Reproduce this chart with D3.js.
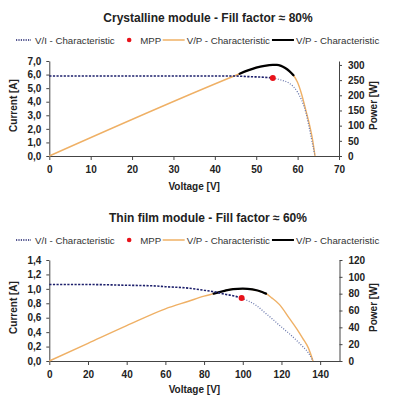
<!DOCTYPE html>
<html>
<head>
<meta charset="utf-8">
<script src="https://cdn.jsdelivr.net/npm/d3@7"></script>
<style>
  body { margin: 0; background: #fff; }
  svg { font-family: 'Liberation Sans', Arial, sans-serif; }
  .tick text { font-size: 10px; font-weight: bold; fill: #222; }
  .domain, .tick line { stroke: #444; }
  .axis-title { font-size: 10px; font-weight: bold; fill: #222; }
  .chart-title { font-size: 12px; font-weight: bold; fill: #222; }
  .legend text { font-size: 9.7px; fill: #333; }
</style>
</head>
<body>
<svg id="chart" width="396" height="400"></svg>
<script>
// Crystalline module
const crystTitle = 'Crystalline module - Fill factor \u2248 80%';
const crystIvVoltage = [0, 44, 48, 52, 54, 56, 58, 60, 61, 62, 62.6, 63.4, 64.2];
const crystIvCurrent = [5.9, 5.9, 5.85, 5.8, 5.75, 5.6, 5.36, 4.7, 4.1, 3.2, 2.4, 1.2, 0];
const crystPowerVoltage = [0, 46, 48, 50, 52, 54, 55, 56, 57, 58, 59, 60, 61, 62, 63, 63.6, 64.2];
const crystPower = [0, 271, 282, 291, 297, 300, 300, 297, 290, 280, 266, 242, 202, 150, 95, 55, 0];
const crystPeakRange = [46, 59];
const crystMpp = [54, 5.75];
const crystVoltTicks = [0, 10, 20, 30, 40, 50, 60, 70];
const crystCurrentTicks = [0, 1, 2, 3, 4, 5, 6, 7];
const crystPowerTicks = [0, 50, 100, 150, 200, 250, 300];

// Thin film module
const thinTitle = 'Thin film module - Fill factor \u2248 60%';
const thinIvVoltage = [0, 20, 40, 55, 60, 70, 80, 86, 90, 95, 99.4, 103, 107, 111, 115, 120, 124, 128, 131, 134, 136.3];
const thinIvCurrent = [1.06, 1.06, 1.05, 1.04, 1.03, 1.015, 0.98, 0.955, 0.93, 0.905, 0.872, 0.83, 0.77, 0.68, 0.59, 0.47, 0.38, 0.28, 0.2, 0.11, 0];
const thinPowerVoltage = [0, 20, 40, 60, 72, 80, 85, 90, 95, 100, 105, 110, 112, 115, 119, 124, 128, 131, 134, 136.3];
const thinPower = [0, 21, 42, 62, 71, 77, 80, 83, 85.5, 86, 85, 82, 80, 75, 67, 51, 38, 27, 15, 0];
const thinPeakRange = [83, 112];
const thinMpp = [99.4, 0.872];
const thinVoltTicks = [0, 20, 40, 60, 80, 100, 120, 140];
const thinCurrentTicks = [0, 0.2, 0.4, 0.6, 0.8, 1.0, 1.2, 1.4];
const thinPowerTicks = [0, 20, 40, 60, 80, 100, 120];

const legendLabels = ['V/I - Characteristic', 'MPP', 'V/P - Characteristic', 'V/P - Characteristic'];

const svg = d3.select('#chart');
const ORANGE = '#efb065';
const NAVY = '#1c1f6b';
const LIGHT_BLUE = '#6b78ad';

const fmtComma = (v) => d3.format('.1f')(v).replace('.', ',');

function zip(xs, ys) {
  return xs.map((x, i) => [x, ys[i]]);
}

function drawLegend(y) {
  const g = svg.append('g').attr('class', 'legend');
  let x = 16;

  // dotted V/I
  g.append('line')
    .attr('x1', x).attr('x2', x + 15).attr('y1', y).attr('y2', y)
    .attr('stroke', NAVY).attr('stroke-width', 1.5).attr('stroke-dasharray', '1.2,1.2');
  x += 19;
  let t = g.append('text').attr('x', x).attr('y', y + 3.5).text(legendLabels[0]);
  x += t.node().getComputedTextLength() + 14.5;

  // MPP
  g.append('circle').attr('cx', x).attr('cy', y).attr('r', 2.3).attr('fill', '#e8121a');
  x += 11;
  t = g.append('text').attr('x', x).attr('y', y + 3.5).text(legendLabels[1]);
  x += t.node().getComputedTextLength() + 1.5;

  // orange V/P
  g.append('line')
    .attr('x1', x).attr('x2', x + 22).attr('y1', y).attr('y2', y)
    .attr('stroke', ORANGE).attr('stroke-width', 1.5);
  x += 24;
  t = g.append('text').attr('x', x).attr('y', y + 3.5).text(legendLabels[2]);
  x += t.node().getComputedTextLength() + 2;

  // black V/P
  g.append('line')
    .attr('x1', x).attr('x2', x + 22).attr('y1', y).attr('y2', y)
    .attr('stroke', '#000').attr('stroke-width', 2);
  x += 24;
  g.append('text').attr('x', x).attr('y', y + 3.5).text(legendLabels[3]);
}

function drawPanel(p) {
  const x = d3.scaleLinear().domain(p.xDomain).range([p.left, p.right]);
  const yI = d3.scaleLinear().domain(p.iDomain).range([p.bottom, p.top]);
  const yP = d3.scaleLinear().domain(p.pDomain).range([p.bottom, p.top]);

  // title + legend
  svg.append('text')
    .attr('class', 'chart-title')
    .attr('x', 208)
    .attr('y', p.titleY)
    .attr('text-anchor', 'middle')
    .text(p.title);
  drawLegend(p.legendY);

  // axes
  svg.append('g')
    .attr('transform', `translate(0,${p.bottom})`)
    .call(d3.axisBottom(x).tickValues(p.xTicks).tickSize(4).tickPadding(6).tickSizeOuter(0));

  svg.append('g')
    .attr('transform', `translate(${p.left},0)`)
    .call(d3.axisLeft(yI).tickValues(p.iTicks).tickFormat(fmtComma).tickSize(3).tickPadding(5).tickSizeOuter(0));

  svg.append('g')
    .attr('transform', `translate(${p.right},0)`)
    .call(d3.axisRight(yP).tickValues(p.pTicks).tickFormat(d3.format('d')).tickSize(3).tickPadding(6).tickSizeOuter(0));

  // axis titles
  const midY = (p.top + p.bottom) / 2 - 3;
  svg.append('text')
    .attr('class', 'axis-title')
    .attr('transform', `translate(17,${midY}) rotate(-90)`)
    .attr('text-anchor', 'middle')
    .text('Current [A]');
  svg.append('text')
    .attr('class', 'axis-title')
    .attr('transform', `translate(377,${midY}) rotate(-90)`)
    .attr('text-anchor', 'middle')
    .text('Power [W]');
  svg.append('text')
    .attr('class', 'axis-title')
    .attr('x', (p.left + p.right) / 2)
    .attr('y', p.bottom + p.xTitleOffset)
    .attr('text-anchor', 'middle')
    .text('Voltage [V]');

  // curves
  const powerPts = zip(p.powerV, p.power);
  const ivPts = zip(p.ivV, p.ivI);

  const powerLine = d3.line().x((d) => x(d[0])).y((d) => yP(d[1])).curve(d3.curveMonotoneX);
  const ivLine = d3.line().x((d) => x(d[0])).y((d) => yI(d[1])).curve(d3.curveMonotoneX);

  svg.append('path')
    .datum(powerPts)
    .attr('d', powerLine)
    .attr('fill', 'none')
    .attr('stroke', ORANGE)
    .attr('stroke-width', 1.4);

  svg.append('path')
    .datum(powerPts.filter((d) => d[0] >= p.peakRange[0] && d[0] <= p.peakRange[1]))
    .attr('d', powerLine)
    .attr('fill', 'none')
    .attr('stroke', '#000')
    .attr('stroke-width', 2.3)
    .attr('stroke-linecap', 'round');

  svg.append('path')
    .datum(ivPts.filter((d) => d[0] <= p.mpp[0]))
    .attr('d', ivLine)
    .attr('fill', 'none')
    .attr('stroke', NAVY)
    .attr('stroke-width', 1.6)
    .attr('stroke-dasharray', '2.2,1.4');

  svg.append('path')
    .datum(ivPts.filter((d) => d[0] >= p.mpp[0]))
    .attr('d', ivLine)
    .attr('fill', 'none')
    .attr('stroke', LIGHT_BLUE)
    .attr('stroke-width', 1.3)
    .attr('stroke-dasharray', '1,1.6');

  svg.append('circle')
    .attr('cx', x(p.mpp[0]))
    .attr('cy', yI(p.mpp[1]))
    .attr('r', 3)
    .attr('fill', '#e8121a');
}

drawPanel({
  title: crystTitle, titleY: 22, legendY: 40,
  left: 49.3, right: 339, top: 61, bottom: 156, xTitleOffset: 34,
  xDomain: [0, 70], iDomain: [0, 7], pDomain: [0, 313],
  xTicks: crystVoltTicks, iTicks: crystCurrentTicks, pTicks: crystPowerTicks,
  ivV: crystIvVoltage, ivI: crystIvCurrent,
  powerV: crystPowerVoltage, power: crystPower,
  peakRange: crystPeakRange, mpp: crystMpp,
});

drawPanel({
  title: thinTitle, titleY: 222, legendY: 240,
  left: 49.3, right: 339.5, top: 260, bottom: 361, xTitleOffset: 32,
  xDomain: [0, 150], iDomain: [0, 1.4], pDomain: [0, 120],
  xTicks: thinVoltTicks, iTicks: thinCurrentTicks, pTicks: thinPowerTicks,
  ivV: thinIvVoltage, ivI: thinIvCurrent,
  powerV: thinPowerVoltage, power: thinPower,
  peakRange: thinPeakRange, mpp: thinMpp,
});
</script>
</body>
</html>
